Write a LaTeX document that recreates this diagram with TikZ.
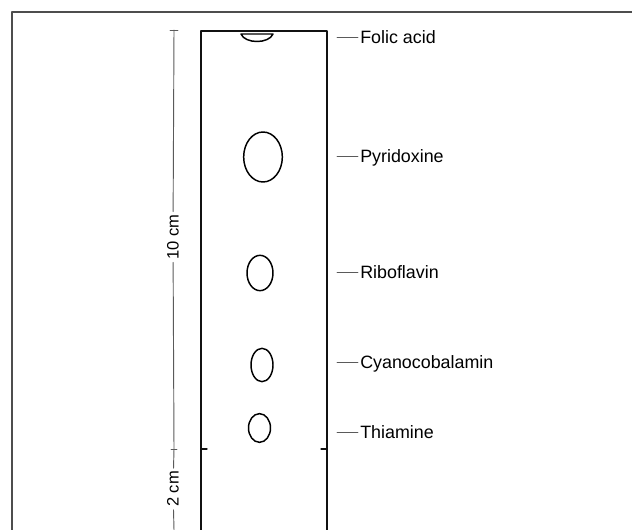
\documentclass[tikz,border=0pt]{standalone}
\usepackage{fontspec}
\setmainfont{Liberation Sans}
\usetikzlibrary{shapes.geometric}
\definecolor{framegray}{HTML}{4D4D4D}
\definecolor{rulegray}{HTML}{5A5A5A}
\definecolor{stripcolor}{HTML}{111111}

\begin{document}
\begin{tikzpicture}[
    x=0.75pt, y=-0.75pt,
    line join=round,
    line cap=round,
    spot/.style={ellipse, draw=black, line width=1.1pt, inner sep=0pt},
    spotlabel/.style={anchor=west, inner sep=0pt, text height=9.6pt, text depth=0pt,
        font=\fontsize{13.4}{16}\selectfont},
    leader/.style={rulegray, line width=0.7pt, shorten >=1.5pt},
    dimtext/.style={rotate=90, inner sep=2pt, font=\fontsize{12.4}{14}\selectfont},
    dimline/.style={rulegray, line width=0.7pt}
]
    \useasboundingbox (0,0) rectangle (632,530);

    % Outer frame (top and left only)
    \draw[framegray, line width=1.5pt, line cap=butt] (632,12) -- (12,12) -- (12,530);

    % Paper strip
    \draw[stripcolor, line width=1.6pt, line cap=butt] (201,530) -- (201,31) -- (327,31) -- (327,530);
    % Origin line ticks
    \draw[stripcolor, line width=1pt] (201,449) -- (207,449);
    \draw[stripcolor, line width=1pt] (321,449) -- (327,449);

    % --- Spots ---
    \draw[black, line width=1.1pt] (241,34) -- (273,34) .. controls (269,44) and (245,44) .. cycle; % Folic acid
    \node[spot, minimum width=29pt, minimum height=37.5pt] (pyr) at (263,157) {};
    \node[spot, minimum width=19.5pt, minimum height=26.5pt] (ribo) at (260,273) {};
    \node[spot, minimum width=16.5pt, minimum height=25pt] (cyano) at (262,365) {};
    \node[spot, minimum width=16.5pt, minimum height=21.5pt] (thia) at (259.5,428) {};

    % --- Labels with leaders ---
    \node[spotlabel] (folic-t) at (360,37) {Folic acid};
    \node[spotlabel] (pyr-t) at (360,156) {Pyridoxine};
    \node[spotlabel] (ribo-t) at (360,272) {Riboflavin};
    \node[spotlabel] (cyano-t) at (360,362) {Cyanocobalamin};
    \node[spotlabel] (thia-t) at (360,432) {Thiamine};
    \coordinate (folic-l) at (337,37);
    \coordinate (pyr-l) at (337,156);
    \coordinate (ribo-l) at (337,272);
    \coordinate (cyano-l) at (337,362);
    \coordinate (thia-l) at (337,432);
    \draw[leader] (folic-l) -- (folic-t.west);
    \draw[leader] (pyr-l) -- (pyr-t.west);
    \draw[leader] (ribo-l) -- (ribo-t.west);
    \draw[leader] (cyano-l) -- (cyano-t.west);
    \draw[leader] (thia-l) -- (thia-t.west);

    % --- Distance scale ---
    \coordinate (dtop) at (174,30);
    \coordinate (dmid) at (174,449);
    \coordinate (dbot) at (174,530);
    \node[dimtext] (ten) at (173,237) {10 cm};
    \node[dimtext] (two) at (173,489) {2 cm};
    \draw[dimline] (dtop) -- (ten);
    \draw[dimline] (ten) -- (dmid) -- (two);
    \draw[dimline] (two) -- (dbot);
    \draw[dimline] (170,30) -- (178,30);
    \draw[dimline] (171,449) -- (177,449);

\end{tikzpicture}
\end{document}
